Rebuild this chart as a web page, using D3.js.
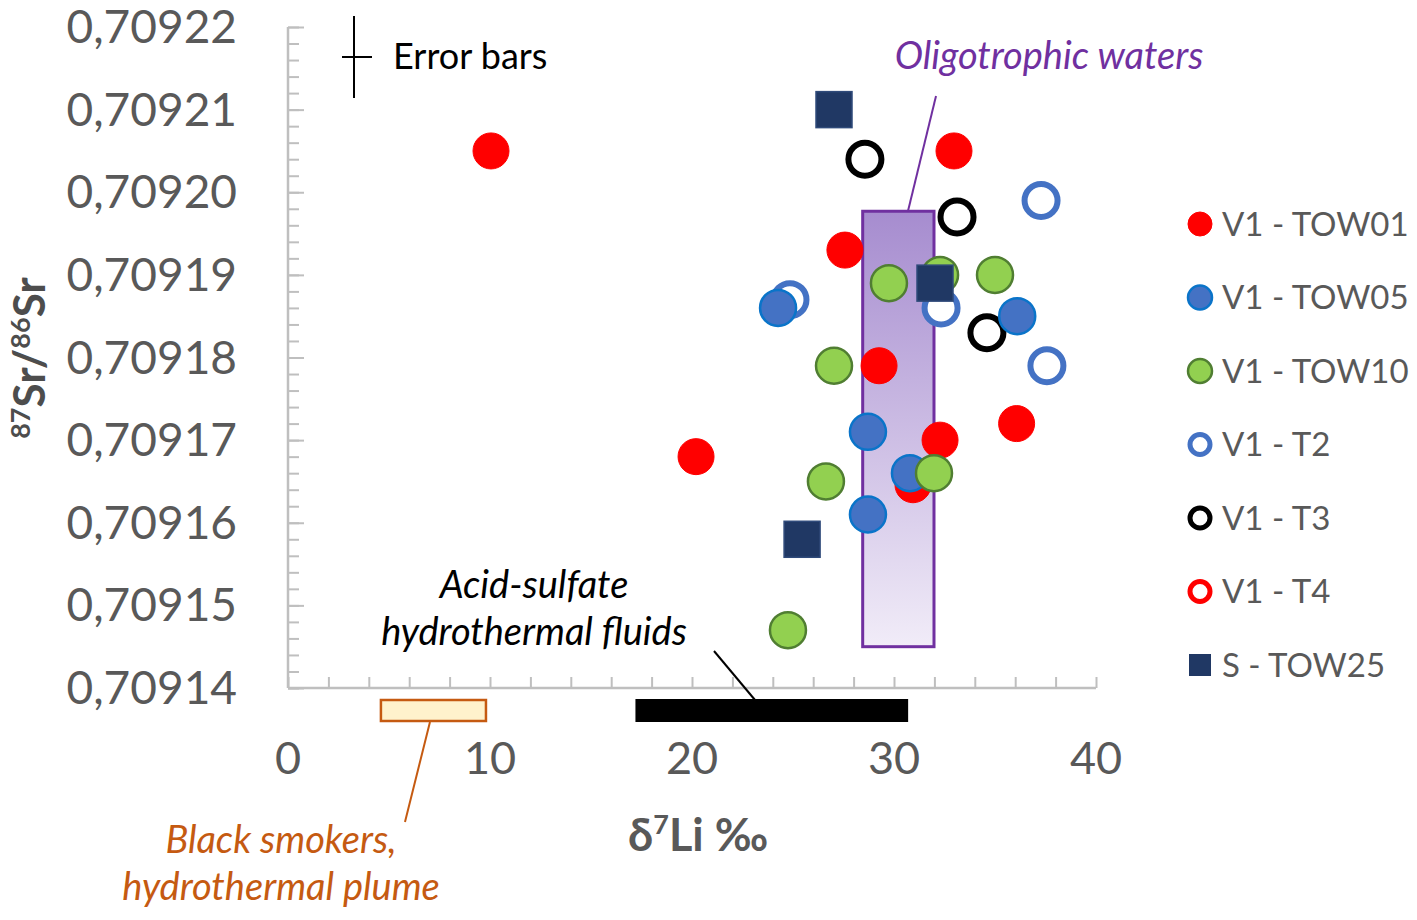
<!DOCTYPE html>
<html><head><meta charset="utf-8">
<script src="https://cdn.jsdelivr.net/npm/d3@7"></script>
<style>body{margin:0;background:#fff}svg{display:block}text{font-family:Lato,"Open Sans",sans-serif}</style>
</head><body><svg id="c" width="1417" height="920"></svg>
<script>
// ---- data ----
const xTickValues = [0, 10, 20, 30, 40];
const yTickValues = [0.70914, 0.70915, 0.70916, 0.70917, 0.70918, 0.70919, 0.70920, 0.70921, 0.70922];
const seriesNames = ["V1 - TOW01", "V1 - TOW05", "V1 - TOW10", "V1 - T2", "V1 - T3", "V1 - T4", "S - TOW25"];
const tow01 = [[10.05,0.709205],[32.97,0.709205],[27.57,0.709193],[29.26,0.709179],[20.2,0.709168],[32.28,0.70917],[36.07,0.709172],[30.94,0.7091646]];
const tow05 = [[24.26,0.709186],[36.1,0.709185],[28.71,0.709171],[30.79,0.709166],[28.71,0.709161]];
const tow10 = [[29.75,0.709189],[32.28,0.70919],[35.0,0.70919],[27.03,0.709179],[26.63,0.709165],[31.98,0.709166],[24.75,0.709147]];
const t2 = [[37.28,0.709199],[24.85,0.709187],[32.33,0.709186],[37.57,0.709179]];
const t3 = [[28.56,0.709204],[33.12,0.709197],[34.6,0.709183]];
const t4 = [];
const tow25 = [[27.03,0.70921],[32.03,0.709189],[25.45,0.709158]];
// fields (ranges)
const oligoX = [28.45, 31.98], oligoY = [0.709145, 0.7091977];
const acidX = [17.2, 30.7];
const smokerX = [4.6, 9.8];

// ---- setup ----
const svg = d3.select("#c");
const x = d3.scaleLinear().domain([0, 40]).range([288, 1096]);
const y = d3.scaleLinear().domain([0.70914, 0.70922]).range([688, 27]);
const axisColor = "#bfbfbf", labelColor = "#595959";

// gradient
const defs = svg.append("defs");
const g = defs.append("linearGradient").attr("id","pg").attr("x1",0).attr("y1",0).attr("x2",0).attr("y2",1);
g.append("stop").attr("offset","0%").attr("stop-color","#a68ccf");
g.append("stop").attr("offset","100%").attr("stop-color","#f1ecf8");

// y axis (inward ticks)
const yAxisMinor = d3.axisRight(y).tickValues(d3.range(0, 41).map(i => 0.70914 + i * 0.000002)).tickSize(11).tickFormat("");
const yAxisMajor = d3.axisRight(y).tickValues(yTickValues).tickSize(16).tickFormat("");
[yAxisMinor, yAxisMajor].forEach(ax => {
  const ga = svg.append("g").attr("transform", `translate(${x(0)},0)`).call(ax);
  ga.select(".domain").remove();
  ga.selectAll("line").attr("stroke", axisColor).attr("stroke-width", 2);
});
svg.append("line").attr("x1", x(0)).attr("x2", x(0)).attr("y1", y(0.70922)).attr("y2", y(0.70914))
  .attr("stroke", axisColor).attr("stroke-width", 2.5);

// x axis (inward ticks)
const xAxis = d3.axisTop(x).tickValues(d3.range(0, 41, 2)).tickSize(11).tickFormat("");
const gx = svg.append("g").attr("transform", `translate(0,${y(0.70914)})`).call(xAxis);
gx.select(".domain").remove();
gx.selectAll("line").attr("stroke", axisColor).attr("stroke-width", 2);
svg.append("line").attr("x1", x(0)).attr("x2", x(40)).attr("y1", y(0.70914)).attr("y2", y(0.70914))
  .attr("stroke", axisColor).attr("stroke-width", 2.5);

// tick labels
const fmt = d => d3.format(".5f")(d).replace(".", ",");
svg.append("g").selectAll("text").data(yTickValues).join("text")
  .attr("x", 237).attr("y", d => y(d)).attr("dy", "0.35em").attr("text-anchor", "end")
  .attr("font-size", 46).attr("fill", labelColor).text(fmt);
svg.append("g").selectAll("text").data(xTickValues).join("text")
  .attr("x", d => x(d)).attr("y", 774).attr("text-anchor", "middle")
  .attr("font-size", 45).attr("fill", labelColor).text(d => d);

// axis titles
const xt = svg.append("text").attr("x", x(20.3)).attr("y", 851).attr("text-anchor", "middle")
  .attr("font-size", 45).attr("font-weight", "bold").attr("fill", labelColor);
xt.append("tspan").text("δ");
xt.append("tspan").attr("font-size", 27).attr("dy", -17).text("7");
xt.append("tspan").attr("dy", 17).text("Li ‰");

const yt = svg.append("text").attr("transform", "translate(45,358) rotate(-90)").attr("text-anchor", "middle")
  .attr("font-size", 44).attr("font-weight", "bold").attr("fill", "#4d4d4d");
yt.append("tspan").attr("font-size", 27).attr("dy", -15).text("87");
yt.append("tspan").attr("dy", 15).text("Sr/");
yt.append("tspan").attr("font-size", 27).attr("dy", -15).text("86");
yt.append("tspan").attr("dy", 15).text("Sr");

// Oligotrophic rect
svg.append("rect").attr("x", x(oligoX[0])).attr("y", y(oligoY[1]))
  .attr("width", x(oligoX[1]) - x(oligoX[0])).attr("height", y(oligoY[0]) - y(oligoY[1]))
  .attr("fill", "url(#pg)").attr("stroke", "#7030a0").attr("stroke-width", 3);
svg.append("line").attr("x1", x(30.69)).attr("y1", y(oligoY[1])).attr("x2", x(32.08)).attr("y2", 96)
  .attr("stroke", "#7030a0").attr("stroke-width", 2);
svg.append("text").attr("x", 1049).attr("y", 69).attr("text-anchor", "middle")
  .attr("font-size", 38).attr("font-style", "italic").attr("fill", "#7030a0").text("Oligotrophic waters");

// Acid-sulfate bar
svg.append("rect").attr("x", x(acidX[0])).attr("y", 699).attr("width", x(acidX[1]) - x(acidX[0])).attr("height", 23).attr("fill", "#000");
svg.append("line").attr("x1", 755).attr("y1", 700).attr("x2", 714).attr("y2", 651).attr("stroke", "#000").attr("stroke-width", 2);
svg.append("text").attr("x", 534).attr("y", 598).attr("text-anchor", "middle").attr("font-size", 38).attr("font-style", "italic").attr("fill", "#000").text("Acid-sulfate");
svg.append("text").attr("x", 534).attr("y", 645).attr("text-anchor", "middle").attr("font-size", 38).attr("font-style", "italic").attr("fill", "#000").text("hydrothermal fluids");

// Black smokers box
svg.append("rect").attr("x", x(smokerX[0])).attr("y", 700).attr("width", x(smokerX[1]) - x(smokerX[0])).attr("height", 21)
  .attr("fill", "#fff2cc").attr("stroke", "#c55a11").attr("stroke-width", 2.5);
svg.append("line").attr("x1", 430).attr("y1", 722).attr("x2", 405).attr("y2", 822).attr("stroke", "#c55a11").attr("stroke-width", 2);
svg.append("text").attr("x", 281).attr("y", 853).attr("text-anchor", "middle").attr("font-size", 38).attr("font-style", "italic").attr("fill", "#c55a11").text("Black smokers,");
svg.append("text").attr("x", 281).attr("y", 900).attr("text-anchor", "middle").attr("font-size", 38).attr("font-style", "italic").attr("fill", "#c55a11").text("hydrothermal plume");

// Error bars legend
svg.append("line").attr("x1", 354).attr("x2", 354).attr("y1", 16).attr("y2", 98).attr("stroke", "#000").attr("stroke-width", 2);
svg.append("line").attr("x1", 342).attr("x2", 372).attr("y1", 57).attr("y2", 57).attr("stroke", "#000").attr("stroke-width", 2);
svg.append("text").attr("x", 393).attr("y", 69).attr("font-size", 36).attr("fill", "#000").text("Error bars");

// series styles
const styles = {
  "V1 - TOW01": {data: tow01, type: "circle", fill: "#ff0000", stroke: "#ff0000", sw: 1},
  "V1 - TOW05": {data: tow05, type: "circle", fill: "#4472c4", stroke: "#0a74c9", sw: 2.5},
  "V1 - TOW10": {data: tow10, type: "circle", fill: "#92d050", stroke: "#507e32", sw: 2.5},
  "V1 - T2": {data: t2, type: "ring", fill: "#fff", stroke: "#4472c4", sw: 6},
  "V1 - T3": {data: t3, type: "ring", fill: "#fff", stroke: "#000", sw: 6},
  "V1 - T4": {data: t4, type: "ring", fill: "#fff", stroke: "#ff0000", sw: 6},
  "S - TOW25": {data: tow25, type: "square", fill: "#203864", stroke: "#2f4a7a", sw: 1.5}
};
const drawOrder = ["V1 - T2", "V1 - T3", "V1 - T4", "V1 - TOW01", "V1 - TOW05", "V1 - TOW10", "S - TOW25"];
drawOrder.forEach(name => {
  const s = styles[name];
  const gg = svg.append("g");
  if (s.type === "square") {
    gg.selectAll("rect").data(s.data).join("rect")
      .attr("x", d => x(d[0]) - 18).attr("y", d => y(d[1]) - 18).attr("width", 36).attr("height", 36)
      .attr("fill", s.fill).attr("stroke", s.stroke).attr("stroke-width", s.sw);
  } else {
    gg.selectAll("circle").data(s.data).join("circle")
      .attr("cx", d => x(d[0])).attr("cy", d => y(d[1])).attr("r", s.type === "ring" ? 16.5 : 18)
      .attr("fill", s.fill).attr("stroke", s.stroke).attr("stroke-width", s.sw);
  }
});

// legend
const lg = svg.append("g");
seriesNames.forEach((name, i) => {
  const s = styles[name];
  const cy = 224 + i * 73.5;
  if (s.type === "square") {
    lg.append("rect").attr("x", 1189).attr("y", cy - 11).attr("width", 22).attr("height", 22).attr("fill", s.fill);
  } else if (s.type === "ring") {
    lg.append("circle").attr("cx", 1200).attr("cy", cy).attr("r", 10).attr("fill", "#fff").attr("stroke", s.stroke).attr("stroke-width", 5);
  } else {
    lg.append("circle").attr("cx", 1200).attr("cy", cy).attr("r", 12).attr("fill", s.fill).attr("stroke", s.stroke).attr("stroke-width", s.sw);
  }
  lg.append("text").attr("x", 1222).attr("y", cy).attr("dy", "0.36em").attr("font-size", 33).attr("fill", labelColor).text(name);
});
</script></body></html>
